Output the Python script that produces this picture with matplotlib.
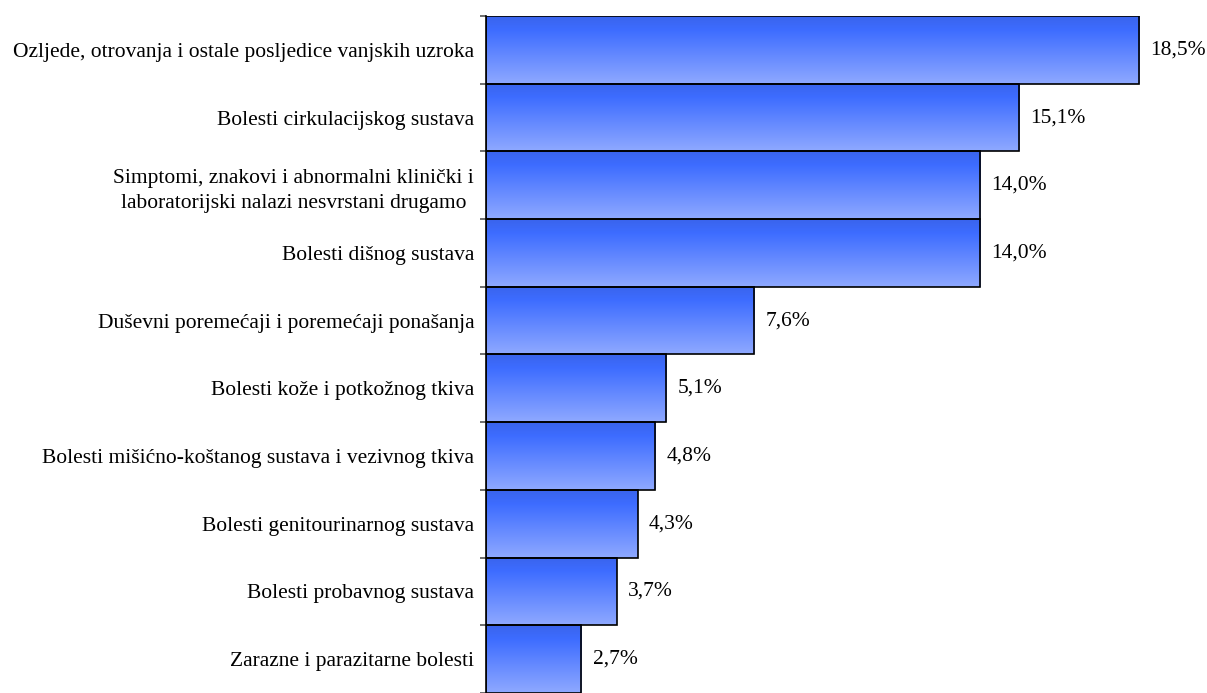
import numpy as np
import matplotlib.pyplot as plt
from matplotlib.colors import LinearSegmentedColormap

#------------------------------------------------------------
categories = [
    "Ozljede, otrovanja i ostale posljedice vanjskih uzroka",
    "Bolesti cirkulacijskog sustava",
    "Simptomi, znakovi i abnormalni klinički i\nlaboratorijski nalazi nesvrstani drugamo",
    "Bolesti dišnog sustava",
    "Duševni poremećaji i poremećaji ponašanja",
    "Bolesti kože i potkožnog tkiva",
    "Bolesti mišićno-koštanog sustava i vezivnog tkiva",
    "Bolesti genitourinarnog sustava",
    "Bolesti probavnog sustava",
    "Zarazne i parazitarne bolesti",
]
values = [18.5, 15.1, 14.0, 14.0, 7.6, 5.1, 4.8, 4.3, 3.7, 2.7]
value_labels = ["18,5%", "15,1%", "14,0%", "14,0%", "7,6%",
                "5,1%", "4,8%", "4,3%", "3,7%", "2,7%"]

#------------------------------------------------------------
plt.rcParams['font.family'] = ['Liberation Serif', 'DejaVu Serif']

W, H = 1207, 693
fig = plt.figure(figsize=(W / 100, H / 100), dpi=100)
px_per_unit = 35.3
x0 = 486
top = 16
bar_px = 68.2
ax = fig.add_axes([x0 / W, 0, 20 * px_per_unit / W, (H - top) / H])

cmap = LinearSegmentedColormap.from_list(
    'bluegrad', [(0.0, '#3a64ec'), (0.2, '#3d6cff'), (1.0, '#8fa9ff')])
grad = np.linspace(0, 1, 256).reshape(-1, 1)

n = len(values)
for i, v in enumerate(values):
    ax.imshow(grad, extent=[0, v, i + 0.5, i - 0.5], aspect='auto',
              cmap=cmap, interpolation='bilinear', zorder=1)
    ax.add_patch(plt.Rectangle((0, i - 0.5), v, 1, facecolor='none',
                               edgecolor='black', linewidth=1.2, zorder=2))
    ax.text(v + 0.32, i, value_labels[i], va='center', ha='left', fontsize=15.5)

ylow = n - 0.5 - 5 / bar_px
ax.set_ylim(ylow, -0.5)
ax.set_xlim(0, 20)

ax.set_yticks(range(n))
ax.set_yticklabels(categories, fontsize=15.5)
for lab in ax.get_yticklabels():
    lab.set_multialignment('center')
    lab.set_linespacing(1.45)
ax.set_yticks(np.arange(-0.5, n, 1.0), minor=True)
ax.tick_params(axis='y', which='major', length=0, pad=8.5)
ax.tick_params(axis='y', which='minor', length=4.5, color='#555555', width=1.2)
ax.set_xticks([])

for s in ['top', 'right', 'bottom']:
    ax.spines[s].set_visible(False)
ax.spines['left'].set_linewidth(1.2)

fig.savefig('out.png', dpi=100)
